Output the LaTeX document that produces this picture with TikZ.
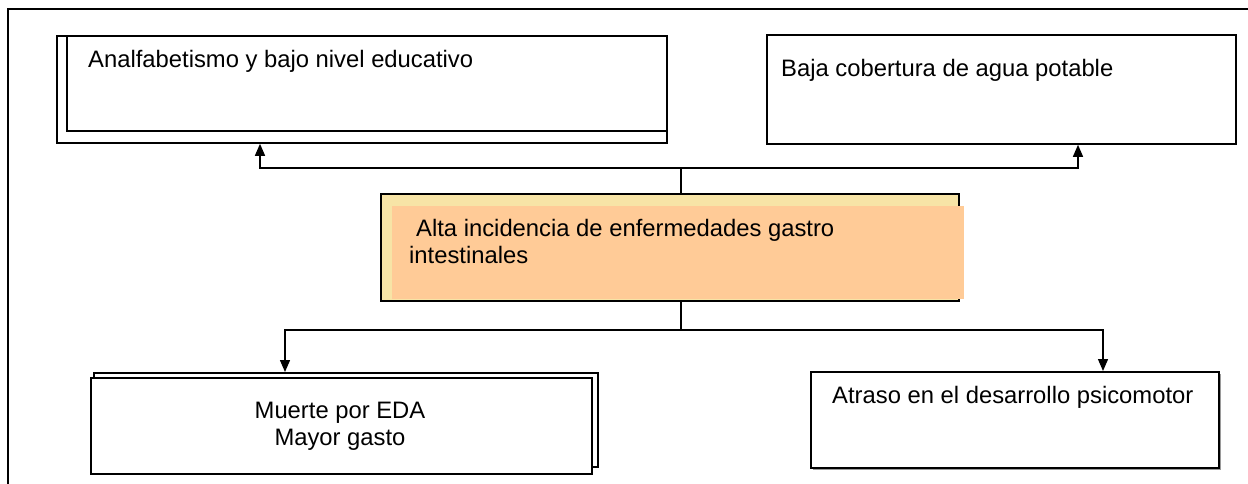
\documentclass[tikz,border=0pt]{standalone}
\usepackage{fontspec}
\setmainfont{Liberation Sans}
\usetikzlibrary{arrows.meta}
\definecolor{paleyellow}{HTML}{F7E4A6}
\definecolor{peach}{HTML}{FFCB97}
\definecolor{shadowgray}{HTML}{9A9A9A}
\begin{document}
\begin{tikzpicture}[x=1pt,y=-1pt,
  box/.style={draw=black, line width=1.8pt, fill=white, rectangle, inner sep=0pt, anchor=north west},
  lbl/.style={anchor=base west, inner sep=0pt, font=\fontsize{23.8}{27.4}\selectfont},
  clbl/.style={anchor=base, inner sep=0pt, font=\fontsize{23.8}{27.4}\selectfont},
  conn/.style={line width=1.4pt},
  arr/.style={line width=1.4pt, -{Triangle[length=12pt,width=10pt]}}]
\useasboundingbox (0,0) rectangle (1248,484);
\fill[white] (0,0) rectangle (1248,484);
\draw[line width=2.4pt] (8,484) -- (8,9) -- (1248,9);

% junction coordinates
\coordinate (tj) at (681,168);
\coordinate (bj) at (681,330);
\coordinate (xa) at (260,0);
\coordinate (xb) at (1078,0);
\coordinate (xc) at (285,0);
\coordinate (xd) at (1103,0);

% top-left box (double)
\node[box, minimum width=610pt, minimum height=107pt] (tlb) at (56,35) {};
\node[box, minimum width=600pt, minimum height=95pt] (tl) at (66,35) {};
\node[lbl] (t1) at (88,68) {Analfabetismo y bajo nivel educativo};

% top-right box
\node[box, minimum width=469pt, minimum height=109pt] (tr) at (766,34) {};
\node[lbl] (t2) at (781,77) {Baja cobertura de agua potable};

% center box
\node[box, fill=paleyellow, minimum width=578pt, minimum height=107pt] (cb) at (380,193) {};
\node[box, draw=none, fill=peach, minimum width=572pt, minimum height=93pt] (cf) at (391,205) {};
\node[lbl] (t3) at (416,236) {Alta incidencia de enfermedades gastro};
\node[lbl] (t4) at (409,263) {intestinales};

% bottom-left box (double)
\node[box, minimum width=504pt, minimum height=94pt] (blb) at (93,372) {};
\node[box, minimum width=501pt, minimum height=96pt] (bl) at (90,377) {};
\node[clbl] (t5) at (340,418) {Muerte por EDA};
\node[clbl] (t6) at (340,445) {Mayor gasto};

% bottom-right box with slight shadow
\node[box, draw=none, fill=shadowgray, minimum width=408pt, minimum height=96pt] (brs) at (812,373) {};
\node[box, minimum width=408pt, minimum height=96pt] (br) at (810,371) {};
\node[lbl] (t7) at (832,403) {Atraso en el desarrollo psicomotor};

% connectors
\draw[conn] (cb.north -| tj) -- (tj);
\draw[arr] (tj) -| (xa |- tlb.south);
\draw[arr] (tj) -| (xb |- tr.south);
\draw[conn] (cb.south -| bj) -- (bj);
\draw[arr] (bj) -| (xc |- blb.north);
\draw[arr] (bj) -| (xd |- br.north);
\end{tikzpicture}
\end{document}
